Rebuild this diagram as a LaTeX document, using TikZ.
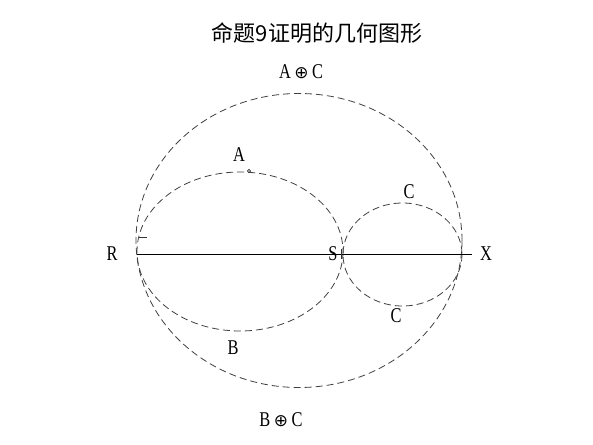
\documentclass[tikz,border=0pt]{standalone}
\usepackage{fontspec}
\setmainfont{Liberation Serif}
\newfontfamily\narrowserif[FakeStretch=0.78]{Liberation Serif}
\newfontfamily\cjk{Noto Sans CJK SC}
\newfontfamily\symfont{DejaVu Sans}
\begin{document}
\begin{tikzpicture}[x=1pt,y=-1pt,
  curve/.style={draw=black!75, line width=0.8pt, dash pattern=on 7pt off 4pt},
  lbl/.style={font=\narrowserif\fontsize{21}{21}\selectfont, inner sep=0pt},
  mark line/.style={draw=black!80, line width=0.6pt}]
\useasboundingbox (0,0) rectangle (593,444);
% points on the line
\coordinate (R) at (137,254);
\coordinate (S) at (343,254);
\coordinate (X) at (462,254);
\coordinate (Xend) at (472,254);
% curves
\draw[curve] (299,240.5) ellipse [x radius=163, y radius=147];
\draw[curve] (240,251.5) ellipse [x radius=103, y radius=79.5];
\draw[curve] (402.5,254.5) ellipse [x radius=59.5, y radius=51.5];
% line
\draw[line width=0.8pt] (R) -- (Xend);
% small marks
\draw[mark line] (139,237) -- (147,237);
\draw[mark line] (341,249) -- (341,259);
\draw[mark line] (249,171) circle [radius=1.6];
% labels
\node[font=\cjk\fontsize{22}{22}\selectfont, inner sep=0pt] (title) at (317,33) {命题9证明的几何图形};
\node[lbl] (AC) at (301,72) {A\,{\symfont\fontsize{17}{17}\selectfont ⊕}\,C};
\node[lbl] (BC) at (281,420) {B\,{\symfont\fontsize{17}{17}\selectfont ⊕}\,C};
\node[lbl] (A) at (239,155) {A};
\node[lbl] (B) at (233,348) {B};
\node[lbl] (Rl) at (112,254) {R};
\node[lbl] (Sl) at (333,254) {S};
\node[lbl] (Xl) at (486,254) {X};
\node[lbl] (C1) at (409,192) {C};
\node[lbl] (C2) at (396,316) {C};
\end{tikzpicture}
\end{document}
